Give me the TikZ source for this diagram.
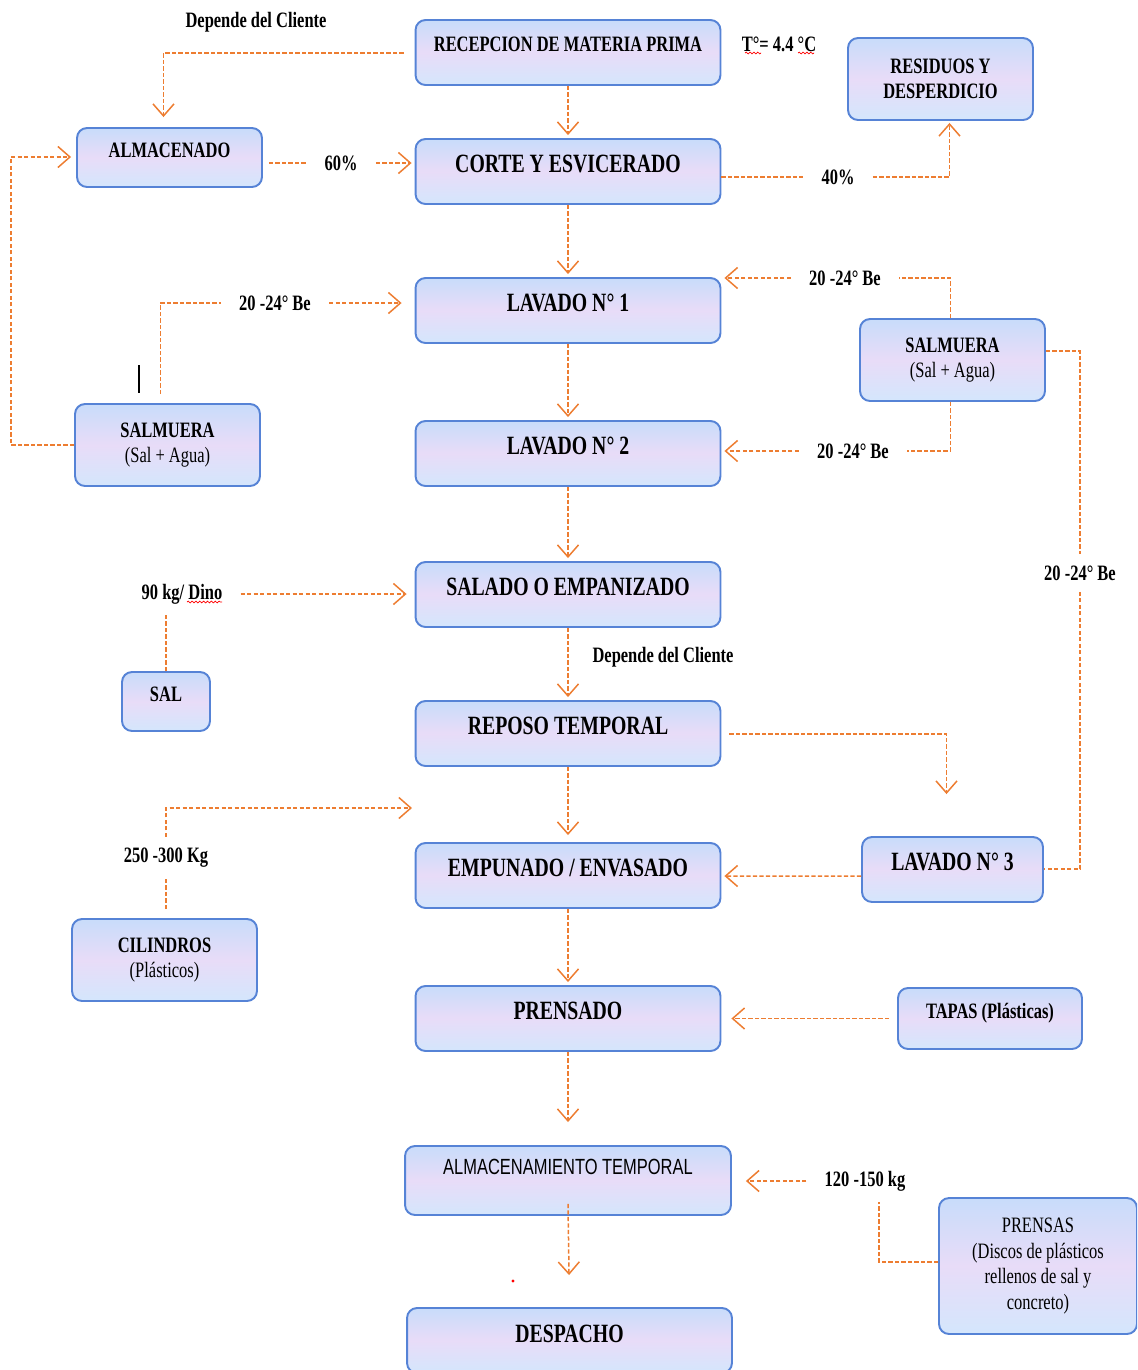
\documentclass[tikz,border=0pt]{standalone}
\usepackage{fontspec}
\setmainfont{Liberation Serif}[FakeStretch=0.75]
\newfontfamily\arialfont{Liberation Sans}[FakeStretch=0.75]
\usetikzlibrary{arrows.meta,decorations.pathmorphing}

\definecolor{naranja}{RGB}{237,125,49}
\definecolor{borde}{RGB}{86,131,214}
\definecolor{azulsup}{RGB}{200,220,250}
\definecolor{lila}{RGB}{232,220,248}
\definecolor{azulinf}{RGB}{212,230,252}

\begin{document}
\begin{tikzpicture}[x=0.02cm,y=-0.02cm,>={Straight Barb[length=2.4mm,width=4.2mm]},
  caja/.style={draw=borde, line width=1.1pt, rounded corners=0.2cm,
    top color=azulsup, bottom color=azulinf, middle color=lila,
    inner sep=0pt, align=center, font=\bfseries\fontsize{12.5}{14.2}\selectfont},
  etapa/.style={caja, minimum width=6.1cm, text height=0.66cm, text depth=0.64cm,
    font=\bfseries\fontsize{15}{17}\selectfont},
  flujo/.style={naranja, line width=0.85pt, dash pattern=on 2.4pt off 1.3pt},
  dato/.style={inner xsep=0.36cm, inner ysep=0.22cm, font=\bfseries\fontsize{12.5}{14}\selectfont},
  onda/.style={red, line width=0.4pt, decorate, decoration={snake, amplitude=0.5pt, segment length=2.2pt}}]
\path[use as bounding box, clip] (0,0) rectangle (1137,1370);

% The process steps
\node[etapa, text height=0.62cm, text depth=0.68cm, font=\bfseries\fontsize{12.5}{14}\selectfont]
  (rec) at (568,52.5) {RECEPCION DE MATERIA PRIMA};
\node[etapa] (corte) at (568,171.5) {CORTE Y ESVICERADO};
\node[etapa] (lav1) at (568,310.5) {LAVADO N° 1};
\node[etapa] (lav2) at (568,453.5) {LAVADO N° 2};
\node[etapa] (salado) at (568,594.5) {SALADO O EMPANIZADO};
\node[etapa] (reposo) at (568,733.5) {REPOSO TEMPORAL};
\node[etapa] (empun) at (568,875.5) {EMPUNADO / ENVASADO};
\node[etapa] (prensado) at (568,1018.5) {PRENSADO};
\node[etapa, minimum width=6.52cm, text height=0.57cm, text depth=0.81cm, font=\arialfont\fontsize{12.5}{14}\selectfont]
  (almtemp) at (568,1180.5) {ALMACENAMIENTO TEMPORAL};
\node[etapa, minimum width=6.5cm, text height=0.68cm, text depth=0.62cm] (despacho) at (569.5,1340.5) {DESPACHO};

% Inputs and outputs on the sides
\node[caja, minimum width=3.7cm, text height=0.59cm, text depth=0.59cm] (almac) at (169.5,157.5) {ALMACENADO};
\node[caja, minimum width=3.7cm, minimum height=1.64cm] (resid) at (940.5,79) {RESIDUOS Y\\DESPERDICIO};
\node[caja, minimum width=3.7cm, minimum height=1.64cm] (salmL) at (167.5,445) {SALMUERA\\\mdseries(Sal + Agua)};
\node[caja, minimum width=3.7cm, minimum height=1.64cm] (salmR) at (952.5,360) {SALMUERA\\\mdseries(Sal + Agua)};
\node[caja, minimum width=1.76cm, text height=0.59cm, text depth=0.59cm] (sal) at (166,701.5) {SAL};
\node[etapa, minimum width=3.62cm] (lav3) at (952.5,869.5) {LAVADO N° 3};
\node[caja, minimum width=3.7cm, minimum height=1.64cm] (cilind) at (164.5,960) {CILINDROS\\\mdseries(Plásticos)};
\node[caja, minimum width=3.68cm, text height=0.61cm, text depth=0.61cm] (tapas) at (990,1018.5) {TAPAS (Plásticas)};
\node[caja, minimum width=3.96cm, minimum height=2.72cm, font=\fontsize{12.5}{14.7}\selectfont]
  (prensas) at (1038,1266) {PRENSAS\\(Discos de plásticos\\rellenos de sal y\\concreto)};

% Texts next to the lines
\node[dato] (dep1) at (256,22) {Depende del Cliente};
\node[dato] (temp) at (779,44) {T°= 4.4 °C};
\node[dato] (p60) at (341,163) {60\%};
\node[dato] (p40) at (838,177) {40\%};
\node[dato] (be1) at (275,303) {20 -24° Be};
\node[dato] (be2) at (845,278) {20 -24° Be};
\node[dato] (be3) at (853,451) {20 -24° Be};
\node[dato] (be4) at (1080,573) {20 -24° Be};
\node[dato] (dino) at (182,594) {90 kg/ Dino};
\node[dato] (dep2) at (663,657) {Depende del Cliente};
\node[dato] (kg250) at (166,858) {250 -300 Kg};
\node[dato] (kg120) at (865,1181) {120 -150 kg};
\coordinate (cfin) at (412,808);

% spelling marks
\draw[onda] (745,53) -- (761,53);
\draw[onda] (798,53) -- (814,53);
\draw[onda] (187,602) -- (222,602);
\fill[red] (513,1281) circle (0.9pt);

% Main flow
\draw[flujo,->,shorten >=0.06cm] (rec.south) -- (corte.north);
\draw[flujo,->,shorten >=0.06cm] (corte.south) -- (lav1.north);
\draw[flujo,->,shorten >=0.06cm] (lav1.south) -- (lav2.north);
\draw[flujo,->,shorten >=0.06cm] (lav2.south) -- (salado.north);
\draw[flujo,->,shorten >=0.06cm] (salado.south) -- (reposo.north);
\draw[flujo,->,shorten >=0.14cm] (reposo.south) -- (empun.north);
\draw[flujo,->,shorten >=0.06cm] (empun.south) -- (prensado.north);
\draw[flujo,->,shorten >=0.46cm] (prensado.south) -- (almtemp.north);
\draw[flujo,->,shorten >=0.64cm] (almtemp.south) ++(0,-12) -- (despacho.north);

% Storage and waste
\draw[flujo,->,shorten >=0.2cm] (rec.west) ++(-11,0.5) -| ([shift={(-6,0)}]almac.north);
\draw[flujo] (almac.east |- p60) ++(6,0) -- (p60);
\draw[flujo,->,shorten >=0.06cm] (p60) -- (corte.west |- p60);
\draw[flujo] (corte.east |- p40) -- (p40);
\draw[flujo,->,shorten >=0.04cm] (p40) -| ([shift={(9,0)}]resid.south);

% Brine
\draw[flujo] (salmL.north) ++(-7,-9) |- (be1);
\draw[flujo,->,shorten >=0.26cm] (be1) -- (lav1.west |- be1);
\draw[black, line width=0.8pt] (139,365) -- (139,393);
\draw[flujo,->,shorten >=0.1cm] (salmL.west) -- ++(-63,0) |- ([shift={(0,-0.5)}]almac.west);
\draw[flujo] (salmR.north) ++(-2,0) |- (be2);
\draw[flujo,->,shorten >=0.06cm] (be2) -- (lav1.east |- be2);
\draw[flujo] (salmR.south) ++(-2,0) |- (be3);
\draw[flujo,->,shorten >=0.06cm] (be3) -- (lav2.east |- be3);
\draw[flujo] (salmR.east) ++(0,-9) -| (be4);
\draw[flujo] (be4) |- ([shift={(0,-0.5)}]lav3.east);

% Salt, cylinders, lids and presses
\draw[flujo] (sal.north) -- (sal.north |- dino.south);
\draw[flujo,->,shorten >=0.16cm] (dino) -- (salado.west |- dino);
\draw[flujo,->,shorten >=0.84cm] (reposo.east) ++(8,0.5) -| ([shift={(-6,0)}]lav3.north);
\draw[flujo] (cilind.north -| kg250) ++(0,-9) -- (kg250);
\draw[flujo,->] (kg250) |- (cfin);
\draw[flujo,->,shorten >=0.06cm] (lav3.west |- empun.east) ++(0,0.5) -- ([yshift=-0.01cm]empun.east);
\draw[flujo,->,shorten >=0.2cm] (tapas.west) ++(-8,0) -- (prensado.east |- tapas.west);
\draw[flujo] (prensas.west) ++(0,-4) -| ([shift={(14,0)}]kg120.south);
\draw[flujo,->,shorten >=0.28cm] (kg120) -- (almtemp.east |- kg120);
\end{tikzpicture}
\end{document}
